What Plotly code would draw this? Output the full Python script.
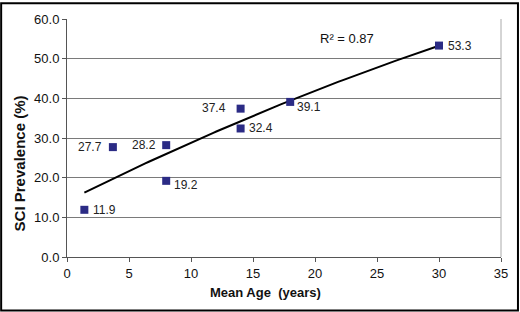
import numpy as np
import plotly.graph_objects as go

mean_age = [1.4, 3.7, 8.0, 8.0, 14.0, 14.0, 18.0, 30.0]
sci_prev = [11.9, 27.7, 28.2, 19.2, 37.4, 32.4, 39.1, 53.3]
x_ticks = [0, 5, 10, 15, 20, 25, 30, 35]
y_ticks = [0, 10, 20, 30, 40, 50, 60]

# label placement: (anchor, x pixel offset, y pixel offset)
label_place = [("left", 7, 0), ("right", -9, 0), ("right", -8, 0), ("left", 6, -4),
               ("right", -13, 1), ("left", 6, 0), ("left", 5, -5), ("left", 7, 0)]

coef = np.polyfit(mean_age, sci_prev, 2)
xf = np.linspace(min(mean_age), max(mean_age), 100)
yf = np.polyval(coef, xf)

font = "Liberation Sans, Arial"
fig = go.Figure()
fig.add_trace(go.Scatter(x=xf, y=yf, mode="lines",
                         line=dict(color="black", width=2), hoverinfo="skip"))
fig.add_trace(go.Scatter(
    x=mean_age, y=sci_prev, mode="markers",
    marker=dict(symbol="square", size=8, color="#2B2B85"),
))

annotations = []
for xv, yv, (side, dx, dy) in zip(mean_age, sci_prev, label_place):
    annotations.append(dict(x=xv, y=yv, xref="x", yref="y", text=f"{yv:.1f}",
                            showarrow=False, xanchor=side, yanchor="middle",
                            xshift=dx, yshift=dy,
                            font=dict(family=font, size=12, color="#222")))
annotations += [
    dict(x=22.6, y=55.2, xref="x", yref="y", text="R² = 0.87",
         showarrow=False, font=dict(size=13, color="#111")),
    dict(x=(265.5 - 67) / 435, y=(257 - 293) / 240, xref="paper", yref="paper",
         text="<b>Mean Age  (years)</b>", showarrow=False,
         font=dict(size=13, color="#111"), xanchor="center", yanchor="middle"),
    dict(x=(19.5 - 67) / 435, y=(257 - 163) / 240, xref="paper", yref="paper",
         text="<b>SCI Prevalence (%)</b>", showarrow=False, textangle=-90,
         font=dict(size=15, color="#111"), xanchor="center", yanchor="middle"),
]

fig.update_layout(
    width=520, height=312, showlegend=False,
    margin=dict(l=67, r=18, t=17, b=55),
    paper_bgcolor="white", plot_bgcolor="white",
    font=dict(family=font, color="#111"),
    xaxis=dict(range=[0, 35], tickvals=x_ticks, ticks="outside", ticklen=4,
               tickcolor="#555", showgrid=False, zeroline=False,
               showline=True, linecolor="#555", linewidth=1,
               tickfont=dict(size=13)),
    yaxis=dict(range=[0, 60], tickvals=y_ticks, tickformat=".1f",
               ticks="outside", ticklen=4, tickcolor="#555",
               showgrid=True, gridcolor="#7a7a7a", gridwidth=1, zeroline=False,
               showline=True, linecolor="#555", linewidth=1,
               tickfont=dict(size=13)),
    annotations=annotations,
    shapes=[
        dict(type="line", xref="paper", yref="paper", x0=1, x1=1, y0=0, y1=1,
             line=dict(color="#aaa", width=1)),
        dict(type="rect", xref="paper", yref="paper",
             x0=(1 - 67) / 435, x1=(519 - 67) / 435,
             y0=(257 - 311) / 240, y1=(257 - 1) / 240,
             line=dict(color="black", width=2)),
    ],
)
fig.write_html("out.html", config={"displayModeBar": False},
               post_script="document.body.style.margin='0';")
